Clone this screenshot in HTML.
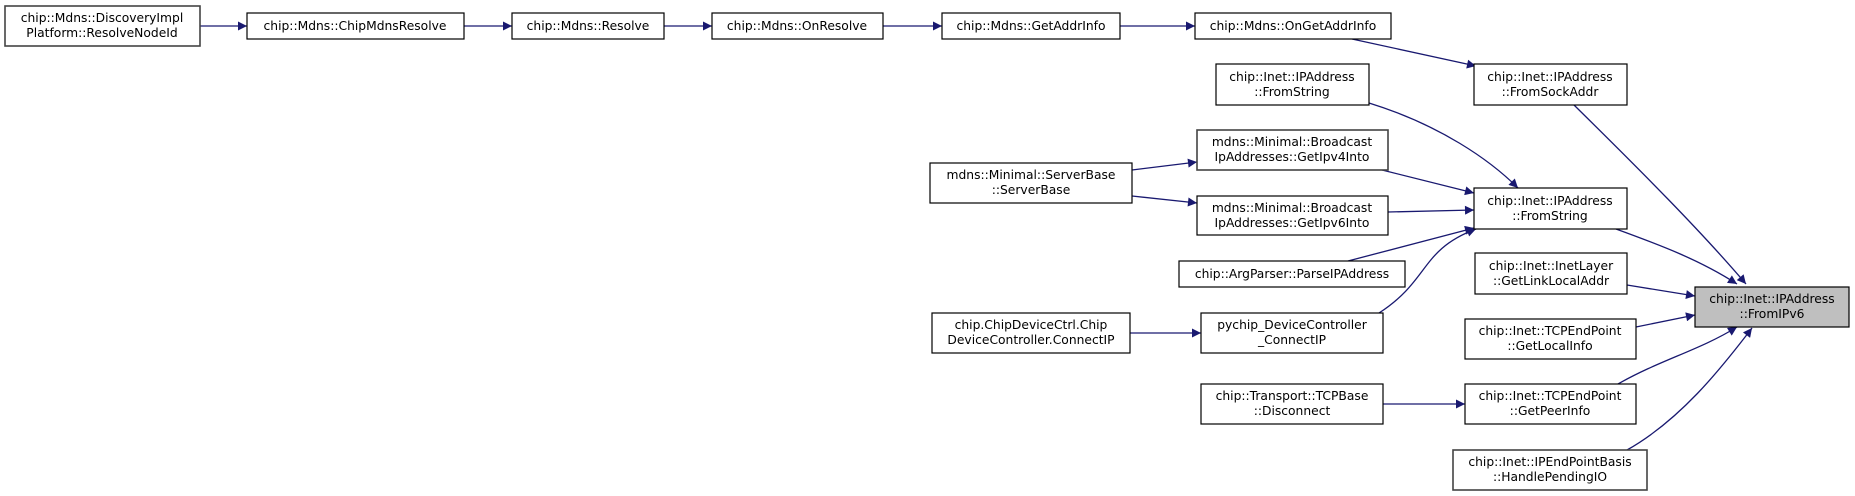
<!DOCTYPE html>
<html><head><meta charset="utf-8"><style>
html,body{margin:0;padding:0;background:#fff;}
svg{display:block;}
text{font-family:"DejaVu Sans","Liberation Sans",sans-serif;font-size:12.3px;fill:#000;text-anchor:middle;}
.b{fill:#fff;stroke:#000;stroke-width:1.2;}
.g{fill:#fff;stroke:#444;stroke-width:1.6;}
.e{fill:none;stroke:#191970;stroke-width:1.3;}
</style></head><body>
<svg width="1855" height="496" viewBox="0 0 1855 496" xmlns="http://www.w3.org/2000/svg">
<defs><marker id="a" viewBox="0 0 10 10" refX="10" refY="5" markerWidth="11" markerHeight="9" markerUnits="userSpaceOnUse" orient="auto"><path d="M0,0L10,5L0,10z" fill="#191970"/></marker></defs>

<g class="e">
<path d="M200,26L247,26" marker-end="url(#a)"/>
<path d="M464,26L512,26" marker-end="url(#a)"/>
<path d="M664,26L712,26" marker-end="url(#a)"/>
<path d="M883,26L942,26" marker-end="url(#a)"/>
<path d="M1120,26L1195,26" marker-end="url(#a)"/>
<path d="M1352,39L1476,66" marker-end="url(#a)"/>
<path d="M1574,105C1640,170 1700,230 1746,284" marker-end="url(#a)"/>
<path d="M1369,103C1440,125 1490,160 1518,188" marker-end="url(#a)"/>
<path d="M1382,170L1474,193" marker-end="url(#a)"/>
<path d="M1388,212L1474,210" marker-end="url(#a)"/>
<path d="M1132,170L1197,162" marker-end="url(#a)"/>
<path d="M1132,196L1197,203" marker-end="url(#a)"/>
<path d="M1348,261L1474,228" marker-end="url(#a)"/>
<path d="M1379,313C1430,280 1420,250 1476,229" marker-end="url(#a)"/>
<path d="M1130,333L1201,333" marker-end="url(#a)"/>
<path d="M1616,229C1660,245 1700,260 1737,284" marker-end="url(#a)"/>
<path d="M1627,285L1695,296" marker-end="url(#a)"/>
<path d="M1636,327L1695,315" marker-end="url(#a)"/>
<path d="M1618,384C1660,360 1700,350 1737,327" marker-end="url(#a)"/>
<path d="M1627,450C1680,420 1720,370 1752,328" marker-end="url(#a)"/>
<path d="M1383,404L1465,404" marker-end="url(#a)"/>
</g>

<rect class="g" x="5" y="6" width="195" height="40"/>
<text x="102" y="22">chip::Mdns::DiscoveryImpl</text><text x="102" y="37">Platform::ResolveNodeId</text>

<rect class="b" x="247" y="13" width="217" height="26"/><text x="355" y="30">chip::Mdns::ChipMdnsResolve</text>
<rect class="b" x="512" y="13" width="152" height="26"/><text x="588" y="30">chip::Mdns::Resolve</text>
<rect class="b" x="712" y="13" width="171" height="26"/><text x="797" y="30">chip::Mdns::OnResolve</text>
<rect class="b" x="942" y="13" width="178" height="26"/><text x="1031" y="30">chip::Mdns::GetAddrInfo</text>
<rect class="b" x="1195" y="13" width="196" height="26"/><text x="1293" y="30">chip::Mdns::OnGetAddrInfo</text>

<rect class="b" x="1474" y="64" width="153" height="41"/>
<text x="1550" y="81">chip::Inet::IPAddress</text><text x="1550" y="96">::FromSockAddr</text>

<rect class="b" x="1216" y="64" width="153" height="41"/>
<text x="1292" y="81">chip::Inet::IPAddress</text><text x="1292" y="96">::FromString</text>

<rect class="g" x="1197" y="130" width="191" height="40"/>
<text x="1292" y="146">mdns::Minimal::Broadcast</text><text x="1292" y="161">IpAddresses::GetIpv4Into</text>

<rect class="b" x="930" y="163" width="202" height="40"/>
<text x="1031" y="179">mdns::Minimal::ServerBase</text><text x="1031" y="194">::ServerBase</text>

<rect class="b" x="1197" y="196" width="191" height="39"/>
<text x="1292" y="212">mdns::Minimal::Broadcast</text><text x="1292" y="227">IpAddresses::GetIpv6Into</text>

<rect class="b" x="1474" y="188" width="153" height="41"/>
<text x="1550" y="205">chip::Inet::IPAddress</text><text x="1550" y="220">::FromString</text>

<rect class="b" x="1179" y="261" width="226" height="26"/><text x="1292" y="278">chip::ArgParser::ParseIPAddress</text>

<rect class="b" x="1475" y="253" width="152" height="41"/>
<text x="1551" y="270">chip::Inet::InetLayer</text><text x="1551" y="285">::GetLinkLocalAddr</text>

<rect x="1695" y="287" width="154" height="40" fill="#bfbfbf" stroke="#000" stroke-width="1.2"/>
<text x="1772" y="303">chip::Inet::IPAddress</text><text x="1772" y="318">::FromIPv6</text>

<rect class="b" x="932" y="313" width="198" height="40"/>
<text x="1031" y="329">chip.ChipDeviceCtrl.Chip</text><text x="1031" y="344">DeviceController.ConnectIP</text>

<rect class="b" x="1201" y="313" width="182" height="40"/>
<text x="1292" y="329">pychip_DeviceController</text><text x="1292" y="344">_ConnectIP</text>

<rect class="b" x="1465" y="319" width="171" height="40"/>
<text x="1550" y="335">chip::Inet::TCPEndPoint</text><text x="1550" y="350">::GetLocalInfo</text>

<rect class="b" x="1201" y="384" width="182" height="40"/>
<text x="1292" y="400">chip::Transport::TCPBase</text><text x="1292" y="415">::Disconnect</text>

<rect class="b" x="1465" y="384" width="171" height="40"/>
<text x="1550" y="400">chip::Inet::TCPEndPoint</text><text x="1550" y="415">::GetPeerInfo</text>

<rect class="g" x="1453" y="450" width="194" height="40"/>
<text x="1550" y="466">chip::Inet::IPEndPointBasis</text><text x="1550" y="481">::HandlePendingIO</text>
</svg>
</body></html>
